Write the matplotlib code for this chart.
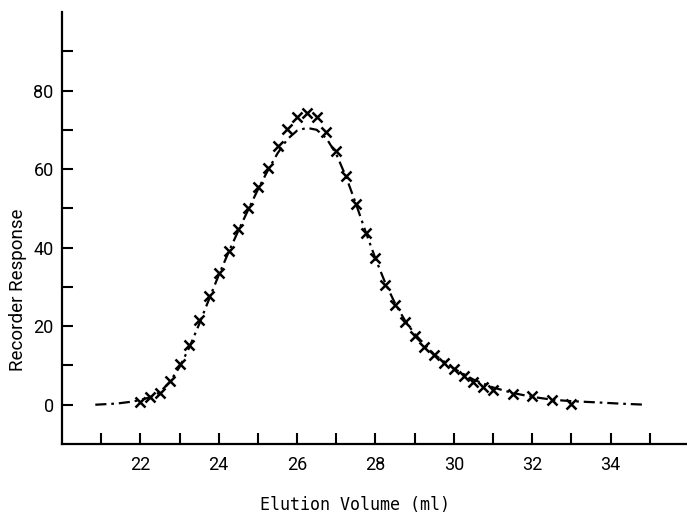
import matplotlib
matplotlib.use("Agg")
import matplotlib.pyplot as plt

# measured points (x marks)
vol_pts = [22.0, 22.25, 22.5, 22.75, 23.0, 23.25, 23.5, 23.75, 24.0, 24.25,
           24.5, 24.75, 25.0, 25.25, 25.5, 25.75, 26.0, 26.25, 26.5, 26.75,
           27.0, 27.25, 27.5, 27.75, 28.0, 28.25, 28.5, 28.75, 29.0, 29.25,
           29.5, 29.75, 30.0, 30.25, 30.5, 30.75, 31.0, 31.5, 32.0, 32.5, 33.0]
resp_pts = [0.8, 1.9, 3.1, 6.1, 10.3, 15.2, 21.5, 27.7, 33.6, 39.2,
            44.8, 50.0, 55.4, 60.4, 66.0, 70.2, 73.2, 74.2, 73.3, 69.5,
            64.6, 58.3, 51.1, 43.7, 37.4, 30.5, 25.4, 21.1, 17.5, 14.7,
            12.7, 10.7, 9.1, 7.4, 5.7, 4.4, 3.7, 2.7, 2.1, 1.3, 0.3]

# fitted curve (dash-dot)
vol_fit = [20.85, 21.4, 21.8, 22.0, 22.25, 22.5, 22.75, 23.0, 23.25, 23.5,
           23.75, 24.0, 24.25, 24.5, 24.75, 25.0, 25.25, 25.5, 25.75, 26.0,
           26.25, 26.5, 26.75, 27.0, 27.25, 27.5, 27.75, 28.0, 28.25, 28.5,
           28.75, 29.0, 29.5, 30.0, 30.5, 31.0, 31.5, 32.0, 32.5, 33.0,
           33.65, 34.2, 34.9]
resp_fit = [0.0, 0.3, 0.8, 1.2, 1.9, 3.2, 5.8, 9.6, 14.6, 20.5,
            26.8, 33.0, 38.8, 44.3, 49.6, 54.8, 59.6, 64.0, 67.6, 69.8,
            70.5, 70.0, 67.8, 63.8, 58.0, 51.2, 44.0, 37.2, 31.0, 25.8,
            21.5, 18.0, 12.8, 9.2, 6.4, 4.4, 3.0, 2.0, 1.3, 0.9,
            0.6, 0.3, 0.0]

xmajor = [22, 24, 26, 28, 30, 32, 34]
xminor = [21, 23, 25, 27, 29, 31, 33, 35]
ymajor = [0, 20, 40, 60, 80]
yminor = [10, 30, 50, 70, 90]

narrow = ["Roboto", "DejaVu Sans"]

fig = plt.figure(figsize=(6.87, 5.18), dpi=100)
ax = fig.add_axes([62 / 687, 74 / 518, 625 / 687, 432 / 518])

ax.plot(vol_fit, resp_fit, color="black", lw=1.6, dashes=(5, 2.2, 1.2, 2.2))
ax.plot(vol_pts, resp_pts, "x", color="black", ms=7, mew=1.8)

ax.set_xlim(20, 35.95)
ax.set_ylim(-10, 100)

for s in ("top", "right"):
    ax.spines[s].set_visible(False)
for s in ("left", "bottom"):
    ax.spines[s].set_linewidth(1.6)

ax.set_xticks(xmajor)
ax.set_xticks(xminor, minor=True)
ax.set_yticks(ymajor)
ax.set_yticks(yminor, minor=True)
ax.tick_params(which="both", direction="in", length=8, width=1.5)
ax.tick_params(axis="x", which="major", pad=9)
ax.tick_params(axis="y", which="major", pad=6)
for lab in ax.get_xticklabels() + ax.get_yticklabels():
    lab.set_family(narrow)
    lab.set_fontsize(13)

fig.text(18 / 687, 1 - 290 / 518, "Recorder Response", rotation=90,
         ha="center", va="center", fontsize=13.5, family=narrow)
fig.text(355 / 687, 1 - 505 / 518, "Elution Volume (ml)",
         ha="center", va="center", fontsize=12, family="DejaVu Sans Mono")

fig.savefig("out.png", dpi=100)
